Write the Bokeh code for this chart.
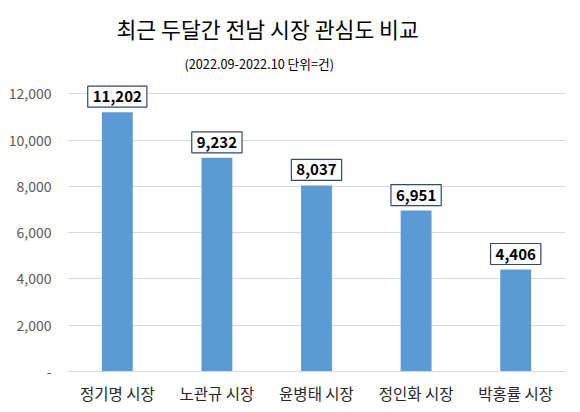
from bokeh.plotting import figure
from bokeh.models import Range1d, FactorRange, FixedTicker, CustomJSTickFormatter, Title
from bokeh.core.properties import value
from bokeh.embed import file_html
from bokeh.resources import INLINE

categories = ["정기명 시장", "노관규 시장", "윤병태 시장", "정인화 시장", "박홍률 시장"]
counts = [11202, 9232, 8037, 6951, 4406]
y_ticks = [0, 2000, 4000, 6000, 8000, 10000, 12000]
title_text = "최근 두달간 전남 시장 관심도 비교"
subtitle_text = "(2022.09-2022.10 단위=건)"

labels = [f"{v:,}" for v in counts]

FONT = "Noto Sans CJK KR"

p = figure(width=564, height=396, frame_width=498, frame_height=294,
           output_backend="svg", toolbar_location=None,
           x_range=FactorRange(*categories, range_padding=0),
           y_range=Range1d(0, 12700),
           min_border_left=67, min_border_right=6, min_border_top=77, min_border_bottom=0)
p.outline_line_color = None
p.background_fill_color = "white"
p.border_fill_color = "white"

p.add_layout(Title(text=subtitle_text, align="left", offset=117, text_font=FONT,
                   text_font_size="12.7px", text_font_style="normal", text_color="#000000",
                   standoff=10), "above")
p.add_layout(Title(text=title_text, align="left", offset=49, text_font=FONT,
                   text_font_size="21.6px", text_font_style="normal", text_color="#000000",
                   standoff=5), "above")

p.vbar(x=categories, top=counts, width=0.31, fill_color="#5B9BD5", line_color=None)

p.text(x=categories, y=counts, text=labels, text_align="center", text_baseline="bottom",
       y_offset=-5, text_font=value(FONT), text_font_size="15px", text_font_style="bold",
       text_color="#000000", border_line_color="#2f4b66", border_line_width=1.2,
       background_fill_color="white", padding=5)

p.xgrid.grid_line_color = None
p.ygrid.grid_line_color = "#d9d9d9"
p.ygrid.ticker = FixedTicker(ticks=y_ticks)

p.yaxis.ticker = FixedTicker(ticks=y_ticks)
p.yaxis.formatter = CustomJSTickFormatter(code='return tick == 0 ? "-" : tick.toLocaleString("en-US");')
p.yaxis.axis_line_color = None
p.yaxis.major_tick_line_color = None
p.yaxis.major_tick_out = 0
p.yaxis.major_tick_in = 0
p.yaxis.minor_tick_line_color = None
p.yaxis.major_label_text_font = FONT
p.yaxis.major_label_text_font_size = "14px"
p.yaxis.major_label_text_color = "#595959"
p.yaxis.major_label_standoff = 16

p.xaxis.axis_line_color = "#d9d9d9"
p.xaxis.major_tick_line_color = None
p.xaxis.major_tick_out = 0
p.xaxis.major_tick_in = 0
p.xaxis.major_label_text_font = FONT
p.xaxis.major_label_text_font_size = "15.5px"
p.xaxis.major_label_text_color = "#262626"
p.xaxis.major_label_standoff = 10

open("out.html", "w").write(file_html(p, INLINE))
